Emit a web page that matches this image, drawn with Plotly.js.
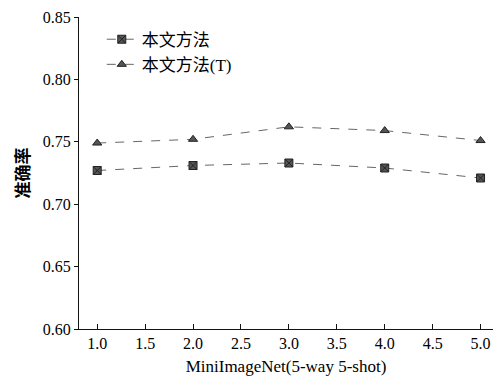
<!DOCTYPE html>
<html><head><meta charset="utf-8">
<script src="https://cdn.plot.ly/plotly-3.0.1.min.js"></script>
<style>body{margin:0;background:#fff}</style>
</head><body><div id="chart" style="width:496px;height:385px"></div>
<script>
const xVals = [1, 2, 3, 4, 5];
const seriesA = [0.727, 0.731, 0.733, 0.729, 0.721];
const seriesB = [0.749, 0.752, 0.762, 0.759, 0.751];
const names = ['本文方法', '本文方法(T)'];
const xTicks = [1.0, 1.5, 2.0, 2.5, 3.0, 3.5, 4.0, 4.5, 5.0];
const yTicks = [0.60, 0.65, 0.70, 0.75, 0.80, 0.85];

const serif = 'Liberation Serif';
const cjk = 'Noto Sans CJK SC';
const traces = [
  {x: xVals, y: seriesA, name: names[0], mode: 'lines+markers',
   line: {color: '#666', width: 1, dash: 'dash'},
   marker: {symbol: 'square-x', size: 8, color: '#555', line: {color: '#222', width: 1}}},
  {x: xVals, y: seriesB, name: names[1], mode: 'lines+markers',
   line: {color: '#666', width: 1, dash: 'dash'},
   marker: {symbol: 'triangle-up', size: 8, color: '#555', line: {color: '#222', width: 1}}}
];
const layout = {
  width: 496, height: 385,
  margin: {l: 79, r: 3, t: 17, b: 56},
  paper_bgcolor: '#fff', plot_bgcolor: '#fff',
  font: {family: serif, color: '#000'},
  showlegend: true,
  legend: {x: 0.055, y: 0.985, xanchor: 'left', yanchor: 'top', bgcolor: 'rgba(0,0,0,0)',
    font: {family: serif + ', ' + cjk, size: 17, color: '#000'}, tracegroupgap: 0},
  xaxis: {range: [0.81, 5.13], tickvals: xTicks, ticktext: xTicks.map(v => v.toFixed(1)),
    showgrid: false, zeroline: false, showline: true, linecolor: '#111', linewidth: 1,
    ticks: 'inside', ticklen: 5, tickcolor: '#111',
    tickfont: {family: serif, size: 16, color: '#000'},
    title: {text: 'MiniImageNet(5-way 5-shot)', font: {family: serif, size: 17, color: '#000'}, standoff: 8}},
  yaxis: {range: [0.60, 0.85], tickvals: yTicks, ticktext: yTicks.map(v => v.toFixed(2)),
    showgrid: false, zeroline: false, showline: true, linecolor: '#111', linewidth: 1,
    ticks: 'outside', ticklen: 4, tickcolor: '#111',
    tickfont: {family: serif, size: 16, color: '#000'},
    title: {text: '<b>准确率</b>', font: {family: cjk, size: 17, color: '#000'}, standoff: 8}}
};
Plotly.newPlot('chart', traces, layout, {displayModeBar: false, staticPlot: true});
</script></body></html>
